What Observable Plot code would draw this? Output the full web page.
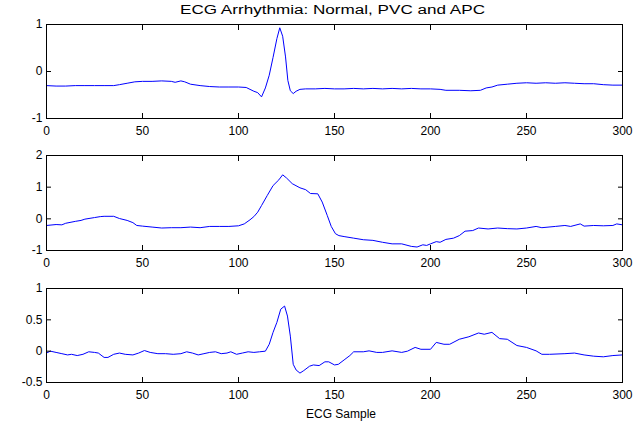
<!DOCTYPE html>
<html><head><meta charset="utf-8">
<script src="https://cdn.jsdelivr.net/npm/d3@7"></script>
<script src="https://cdn.jsdelivr.net/npm/@observablehq/plot@0.6"></script>
<style>
body{margin:0;background:#fff;}
#wrap{position:relative;width:635px;height:423px;background:#fff;font-family:"Liberation Sans",Arial,sans-serif;color:#000;overflow:hidden;}
#wrap svg{position:absolute;left:0;}
.t{position:absolute;white-space:nowrap;font-size:12px;line-height:12px;z-index:2;}
</style></head><body>
<div id="wrap"></div>
<script>
const title = "ECG Arrhythmia: Normal, PVC and APC";
const xLabel = "ECG Sample";
const xTicks = [0, 50, 100, 150, 200, 250, 300];

const normalTicks = [-1, 0, 1];
const normalX = [0,5,10,15,20,25,30,35,38,42,46,50,55,60,65,67,70,72,75,80,85,90,95,100,104,106,108,110,112,114,116,118,120,121.5,123,124.5,125.7,127,128.5,130,132,135,140,145,150,155,160,165,170,175,180,185,190,195,200,205,208,215,221,226,229,232,235,240,245,250,255,260,265,270,275,280,285,290,295,300];
const normalY = [-0.30,-0.31,-0.31,-0.30,-0.30,-0.30,-0.30,-0.30,-0.28,-0.25,-0.22,-0.21,-0.21,-0.20,-0.21,-0.23,-0.20,-0.22,-0.27,-0.30,-0.32,-0.33,-0.33,-0.33,-0.34,-0.38,-0.42,-0.45,-0.54,-0.35,-0.08,0.30,0.70,0.93,0.75,0.31,-0.19,-0.41,-0.47,-0.42,-0.38,-0.37,-0.37,-0.36,-0.37,-0.37,-0.36,-0.37,-0.36,-0.37,-0.36,-0.37,-0.36,-0.37,-0.37,-0.38,-0.40,-0.40,-0.41,-0.40,-0.35,-0.33,-0.29,-0.27,-0.25,-0.24,-0.25,-0.24,-0.25,-0.24,-0.25,-0.26,-0.26,-0.28,-0.29,-0.29];

const pvcTicks = [-1, 0, 1, 2];
const pvcX = [0,5,8,10,15,18,20,25,28,30,35,38,42,45,47,50,55,60,65,70,75,80,85,90,95,100,103,106,108,110,112,115,118,121,123,125,128,132,135,137.5,141.3,143.6,146.2,148.3,150.5,152.3,155,160,165,170,175,180,185,190,193,196,198,200,203,205,208,212,215,218,222,225,230,235,240,245,250,255,258,265,270,273,278,280,285,290,295,297,300];
const pvcY = [-0.21,-0.18,-0.19,-0.14,-0.08,-0.05,-0.01,0.04,0.07,0.08,0.08,0.01,-0.05,-0.12,-0.21,-0.23,-0.26,-0.29,-0.28,-0.28,-0.26,-0.28,-0.24,-0.24,-0.24,-0.22,-0.16,-0.03,0.07,0.21,0.42,0.74,1.05,1.23,1.39,1.29,1.11,0.98,0.92,0.80,0.79,0.53,0.11,-0.24,-0.47,-0.53,-0.56,-0.61,-0.66,-0.68,-0.74,-0.79,-0.79,-0.87,-0.89,-0.82,-0.84,-0.79,-0.72,-0.74,-0.65,-0.61,-0.53,-0.39,-0.37,-0.29,-0.32,-0.29,-0.31,-0.32,-0.29,-0.24,-0.28,-0.24,-0.21,-0.24,-0.16,-0.23,-0.21,-0.22,-0.21,-0.16,-0.19];

const apcTicks = [-0.5, 0, 0.5, 1];
const apcX = [0,2,5,8,11,13,16,19,22,25,27,30,32,35,38,41,45,48,51,54,58,62,66,70,73,76,79,82,85,88,91,94,96,99,102,105,108,111,114,116,118,120,122,124,125.5,127,128.5,130,132,134,137,139,142,145,147,150,152,155,158,160,165,168,172,175,180,185,188,192,195,200,203,207,210,215,220,225,228,232,236,240,245,250,255,258,262,270,275,280,285,290,295,300];
const apcY = [-0.03,0.0,-0.02,-0.04,-0.06,-0.05,-0.07,-0.05,-0.01,-0.02,-0.03,-0.10,-0.10,-0.05,-0.03,-0.05,-0.06,-0.03,0.01,-0.02,-0.04,-0.04,-0.05,-0.04,-0.01,-0.03,-0.06,-0.04,-0.02,-0.01,-0.04,-0.03,-0.01,-0.05,-0.03,-0.01,-0.02,-0.01,0.0,0.11,0.30,0.46,0.67,0.72,0.56,0.24,-0.21,-0.30,-0.35,-0.31,-0.24,-0.22,-0.23,-0.17,-0.17,-0.22,-0.21,-0.14,-0.07,-0.01,-0.01,0.005,-0.02,-0.02,0.005,-0.02,0.0,0.06,0.03,0.03,0.14,0.11,0.11,0.19,0.23,0.29,0.27,0.30,0.20,0.19,0.09,0.06,0.005,-0.05,-0.05,-0.04,-0.03,-0.06,-0.08,-0.09,-0.07,-0.06];

const wrap = document.getElementById("wrap");
const fmt = d => String(d);

function panel(xs, ys, yTicks, top, height, mt, mb) {
  const data = xs.map((x, i) => ({x, y: ys[i]}));
  const svg = Plot.plot({
    width: 635, height,
    marginTop: mt, marginBottom: mb, marginLeft: 46, marginRight: 13,
    style: {fontFamily: "'Liberation Sans', Arial, sans-serif", fontSize: "12px", background: "transparent", color: "black"},
    x: {domain: [0, 300]},
    y: {domain: [yTicks[0], yTicks[yTicks.length - 1]]},
    marks: [
      Plot.line(data, {x: "x", y: "y", stroke: "#0000ff", strokeWidth: 1}),
      Plot.axisX({ticks: xTicks, tickSize: 0, tickPadding: 8, tickFormat: fmt, label: null}),
      Plot.axisX({ticks: xTicks, anchor: "bottom", tickSize: 5, dy: -5, fill: "none", label: null}),
      Plot.axisX({ticks: xTicks, anchor: "top", tickSize: 5, dy: 5, fill: "none", label: null}),
      Plot.axisY({ticks: yTicks, tickSize: 0, tickPadding: 4, tickFormat: fmt, label: null}),
      Plot.axisY({ticks: yTicks, anchor: "left", tickSize: 5, dx: 5, fill: "none", label: null}),
      Plot.axisY({ticks: yTicks, anchor: "right", tickSize: 5, dx: -5, fill: "none", label: null}),
      Plot.frame({stroke: "black"})
    ]
  });
  svg.style.top = top + "px";
  wrap.append(svg);
}

panel(normalX, normalY, normalTicks, 0, 140, 24, 22);
panel(pvcX, pvcY, pvcTicks, 140, 140, 15, 30);
panel(apcX, apcY, apcTicks, 275, 148, 13, 41);

const t = document.createElement("div");
t.className = "t";
t.textContent = title;
t.style.top = "4px";
t.style.left = "180px";
t.style.transformOrigin = "0 0";
wrap.append(t);
const w = t.getBoundingClientRect().width;
t.style.transform = `scaleX(${305 / w})`;

const xl = document.createElement("div");
xl.className = "t";
xl.textContent = xLabel;
xl.style.top = "408px";
xl.style.left = "306px";
wrap.append(xl);
</script>
</body></html>
